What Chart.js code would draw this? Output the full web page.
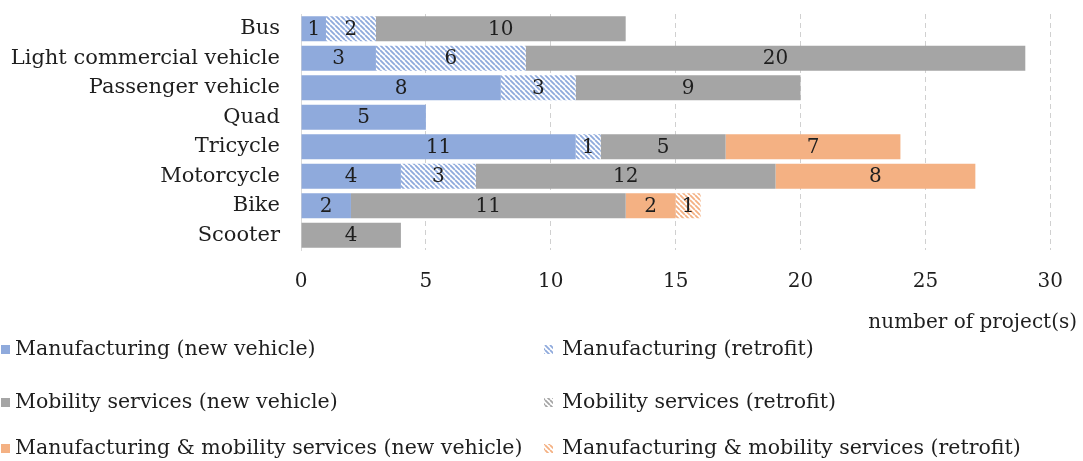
<!DOCTYPE html>
<html>
<head>
<meta charset="utf-8">
<script src="https://cdn.jsdelivr.net/npm/chart.js@4"></script>
<style>
  html, body { margin: 0; padding: 0; background: #fff; }
  #wrap { width: 1083px; height: 461px; }
</style>
</head>
<body>
<div id="wrap"><canvas id="chart"></canvas></div>
<script>
const categories = ['Bus', 'Light commercial vehicle', 'Passenger vehicle', 'Quad', 'Tricycle', 'Motorcycle', 'Bike', 'Scooter'];
const manufNew = [1, 3, 8, 5, 11, 4, 2, 0];
const manufRetrofit = [2, 6, 3, 0, 1, 3, 0, 0];
const mobilityNew = [10, 20, 9, 0, 5, 12, 11, 4];
const mobilityRetrofit = [0, 0, 0, 0, 0, 0, 0, 0];
const bothNew = [0, 0, 0, 0, 7, 8, 2, 0];
const bothRetrofit = [0, 0, 0, 0, 0, 0, 1, 0];
const seriesNames = [
    'Manufacturing (new vehicle)', 'Manufacturing (retrofit)',
    'Mobility services (new vehicle)', 'Mobility services (retrofit)',
    'Manufacturing & mobility services (new vehicle)', 'Manufacturing & mobility services (retrofit)'
];
const axisTitle = 'number of project(s)';
const xMax = 30;
const xStep = 5;

const BLUE = '#8FAADC', GREY = '#A5A5A5', ORANGE = '#F4B183';
const FONT = '"DejaVu Serif", "Liberation Serif", serif';
const TEXT = '#1e1e1e';

// diagonal "\" stripes on white
function hatch(color) {
    const s = 5;
    const c = document.createElement('canvas');
    c.width = c.height = s;
    const g = c.getContext('2d');
    g.fillStyle = '#fff';
    g.fillRect(0, 0, s, s);
    g.strokeStyle = color;
    g.lineWidth = 1.8;
    g.beginPath();
    for (const k of [-s, 0, s]) { g.moveTo(k, 0); g.lineTo(k + s, s); }
    g.stroke();
    return g.createPattern(c, 'repeat');
}

const fills = [BLUE, hatch(BLUE), GREY, hatch(GREY), ORANGE, hatch(ORANGE)];
const values = [manufNew, manufRetrofit, mobilityNew, mobilityRetrofit, bothNew, bothRetrofit];

// numbers inside each segment
const segmentLabels = {
    id: 'segmentLabels',
    afterDatasetsDraw(chart) {
        const ctx = chart.ctx;
        ctx.save();
        ctx.font = '20px ' + FONT;
        ctx.fillStyle = TEXT;
        ctx.textAlign = 'center';
        ctx.textBaseline = 'middle';
        chart.data.datasets.forEach((ds, i) => {
            chart.getDatasetMeta(i).data.forEach((bar, j) => {
                const v = ds.data[j];
                if (!v) return;
                const p = bar.getCenterPoint();
                ctx.fillText(String(v), p.x, p.y + 1);
            });
        });
        ctx.restore();
    }
};

// two-column legend + axis title under the plot
const bottomLegend = {
    id: 'bottomLegend',
    afterDraw(chart) {
        const ctx = chart.ctx;
        ctx.save();
        ctx.fillStyle = TEXT;
        ctx.font = '20px ' + FONT;
        ctx.textAlign = 'right';
        ctx.textBaseline = 'middle';
        ctx.fillText(axisTitle, 1077, 323);

        ctx.textAlign = 'left';
        ctx.font = '20.5px ' + FONT;
        const colX = [1, 544];
        const rowY = [349, 402, 448];
        chart.data.datasets.forEach((ds, i) => {
            const x = colX[i % 2], y = rowY[Math.floor(i / 2)];
            ctx.fillStyle = ds.backgroundColor;
            ctx.fillRect(x, y - 4, 9, 9);
            ctx.fillStyle = TEXT;
            ctx.fillText(ds.label, x + (i % 2 ? 18 : 14), y + 1);
        });
        ctx.restore();
    }
};

new Chart(document.getElementById('chart'), {
    type: 'bar',
    data: {
        labels: categories,
        datasets: seriesNames.map((name, i) => ({
            label: name,
            data: values[i],
            backgroundColor: fills[i],
            borderWidth: 0,
            barPercentage: 0.85,
            categoryPercentage: 1
        }))
    },
    options: {
        indexAxis: 'y',
        responsive: true,
        maintainAspectRatio: false,
        animation: false,
        layout: { padding: { top: 14, right: 26, bottom: 167, left: 0 } },
        plugins: {
            legend: { display: false },
            tooltip: { enabled: false }
        },
        scales: {
            x: {
                stacked: true,
                min: 0,
                max: xMax,
                afterFit: (s) => { s.height = 44; },
                ticks: { stepSize: xStep, padding: 20, color: TEXT, font: { family: FONT, size: 20 } },
                grid: {
                    drawTicks: false,
                    color: (c) => c.tick && c.tick.value === 0 ? 'rgba(0,0,0,0)' : '#D0D0D0'
                },
                border: { display: false, dash: [5, 4] }
            },
            y: {
                stacked: true,
                afterFit: (s) => { s.width = 301; s.paddingTop = 0; s.paddingBottom = 0; },
                ticks: { autoSkip: false, padding: 21, color: TEXT, font: { family: FONT, size: 21 } },
                grid: { display: false, drawTicks: false },
                border: { display: true, color: '#D9D9D9' }
            }
        }
    },
    plugins: [segmentLabels, bottomLegend]
});
</script>
</body>
</html>
